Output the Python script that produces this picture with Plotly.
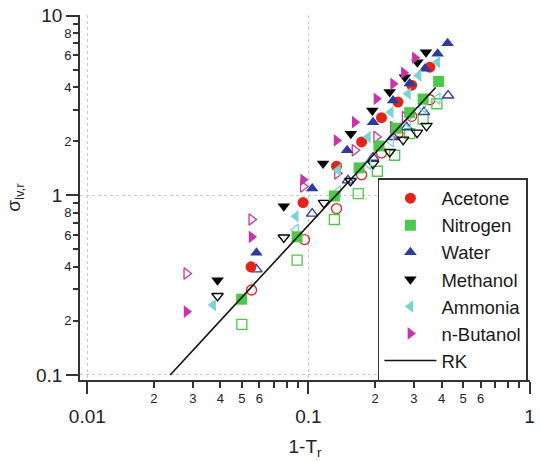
import plotly.graph_objects as go

# ---------------- data ----------------
acetone_x = [0.055, 0.0946, 0.134, 0.174, 0.214, 0.254, 0.293, 0.354]
acetone_y = [0.40, 0.91, 1.45, 1.98, 2.70, 3.30, 4.10, 5.16]
acetone_open_x = [0.0553, 0.096, 0.134, 0.174, 0.214, 0.254, 0.293, 0.354]
acetone_open_y = [0.297, 0.567, 0.843, 1.30, 1.72, 2.20, 2.75, 3.40]

nitrogen_x = [0.0499, 0.0889, 0.131, 0.1695, 0.2085, 0.2495, 0.287, 0.33, 0.388]
nitrogen_y = [0.264, 0.587, 0.99, 1.42, 1.88, 2.36, 2.88, 3.43, 4.30]
nitrogen_open_x = [0.050, 0.0889, 0.131, 0.168, 0.205, 0.2455, 0.287, 0.33, 0.381]
nitrogen_open_y = [0.191, 0.435, 0.733, 1.02, 1.36, 1.67, 2.20, 2.65, 3.23]

water_x = [0.0582, 0.104, 0.1496, 0.196, 0.2415, 0.287, 0.336, 0.384, 0.426]
water_y = [0.478, 1.09, 1.78, 2.55, 3.37, 4.19, 5.06, 6.13, 7.02]
water_open_x = [0.0582, 0.104, 0.151, 0.196, 0.2415, 0.278, 0.333, 0.428]
water_open_y = [0.387, 0.791, 1.21, 1.62, 2.11, 2.39, 2.90, 3.59]

methanol_x = [0.0388, 0.0774, 0.1165, 0.1555, 0.1945, 0.233, 0.273, 0.311, 0.34]
methanol_y = [0.337, 0.869, 1.50, 2.20, 2.96, 3.75, 4.54, 5.50, 6.25]
methanol_open_x = [0.0388, 0.0774, 0.1175, 0.155, 0.196, 0.233, 0.268, 0.31, 0.342]
methanol_open_y = [0.275, 0.582, 0.906, 1.20, 1.50, 1.74, 2.04, 2.23, 2.43]

ammonia_x = [0.0371, 0.0877, 0.136, 0.186, 0.2356, 0.282, 0.315, 0.383]
ammonia_y = [0.245, 0.764, 1.38, 2.11, 2.90, 3.67, 4.64, 5.50]
ammonia_open_x = [0.0877, 0.136, 0.186, 0.236, 0.282, 0.33, 0.383]
ammonia_open_y = [0.64, 1.05, 1.50, 2.00, 2.55, 3.10, 3.45]

butanol_x = [0.0281, 0.0553, 0.0946, 0.134, 0.162, 0.203, 0.2415, 0.270, 0.303]
butanol_y = [0.225, 0.587, 1.22, 2.02, 2.55, 3.44, 4.17, 4.80, 5.82]
butanol_open_x = [0.0281, 0.0553, 0.0946, 0.135, 0.162, 0.203, 0.2415, 0.273]
butanol_open_y = [0.367, 0.733, 1.12, 1.32, 1.78, 2.11, 2.39, 2.72]

rk_x = [0.0237, 0.05, 0.1, 0.2, 0.3, 0.376]
rk_y = [0.10, 0.27, 0.68, 1.72, 2.95, 3.98]

x_major = [0.01, 0.1, 1]
x_major_text = ["0.01", "0.1", "1"]
y_major = [0.1, 1, 10]
y_major_text = ["0.1", "1", "10"]
# all minor tick positions
x_minor = [m * d for d in (0.01, 0.1) for m in range(2, 10)]
y_minor = [m * d for d in (0.1, 1) for m in range(2, 10)]
# labelled minor ticks
x_minor_lab = [m * d for d in (0.01, 0.1) for m in (2, 3, 4, 5, 6)]
x_minor_lab_text = [str(m) for d in (0.01, 0.1) for m in (2, 3, 4, 5, 6)]
y_minor_lab = [m * d for d in (0.1, 1) for m in (2, 4, 6, 8)]
y_minor_lab_text = [str(m) for d in (0.1, 1) for m in (2, 4, 6, 8)]

series = [
    ("Acetone", "circle", "#e3241b", acetone_x, acetone_y, acetone_open_x, acetone_open_y),
    ("Nitrogen", "square", "#4cc84a", nitrogen_x, nitrogen_y, nitrogen_open_x, nitrogen_open_y),
    ("Water", "triangle-up", "#2b3c9e", water_x, water_y, water_open_x, water_open_y),
    ("Methanol", "triangle-down", "#000000", methanol_x, methanol_y, methanol_open_x, methanol_open_y),
    ("Ammonia", "triangle-left", "#7dd4ce", ammonia_x, ammonia_y, ammonia_open_x, ammonia_open_y),
    ("n-Butanol", "triangle-right", "#c935a8", butanol_x, butanol_y, butanol_open_x, butanol_open_y),
]

fig = go.Figure()

# open markers (not in legend)
for name, sym, col, fx, fy, ox, oy in series:
    fig.add_trace(go.Scatter(
        x=ox, y=oy, mode="markers", showlegend=False, hoverinfo="skip",
        marker=dict(symbol=sym + "-open", size=10, color=col, line=dict(width=1.3, color=col)),
    ))

# filled markers
for name, sym, col, fx, fy, ox, oy in series:
    fig.add_trace(go.Scatter(
        x=fx, y=fy, mode="markers", name=name,
        marker=dict(symbol=sym, size=11, color=col, line=dict(width=0)),
    ))

fig.add_trace(go.Scatter(x=rk_x, y=rk_y, mode="lines", name="RK",
                         line=dict(color="#111111", width=1.6)))

# helper axes for the small minor tick labels
fig.add_trace(go.Scatter(x=[0.05], y=[0.5], xaxis="x2", yaxis="y2", mode="markers",
                         marker=dict(opacity=0), showlegend=False, hoverinfo="skip"))

font_family = "Liberation Sans, Arial, sans-serif"
axcol = "#333333"

fig.update_layout(
    width=540, height=461,
    margin=dict(l=80, r=10, t=15, b=81, autoexpand=False),
    paper_bgcolor="white", plot_bgcolor="white",
    font=dict(family=font_family, color="#222222"),
    xaxis=dict(
        type="log", range=[-2.033, 0.002],
        tickmode="array", tickvals=x_major, ticktext=x_major_text,
        ticks="outside", ticklen=12, tickwidth=1.5, tickcolor=axcol,
        tickfont=dict(size=19), ticklabelstandoff=6,
        minor=dict(tickmode="array", tickvals=x_minor, ticks="outside", ticklen=6,
                   tickwidth=1.5, tickcolor=axcol, showgrid=False),
        showline=True, linecolor=axcol, linewidth=1.5,
        showgrid=True, gridcolor="#c9c9c9", griddash="dot", gridwidth=1,
        zeroline=False,
        title=dict(text="1-T<sub>r</sub>", font=dict(size=19), standoff=14),
    ),
    yaxis=dict(
        type="log", range=[-1.028, 1.003],
        tickmode="array", tickvals=y_major, ticktext=y_major_text,
        ticks="outside", ticklen=12, tickwidth=1.5, tickcolor=axcol,
        tickfont=dict(size=19),
        minor=dict(tickmode="array", tickvals=y_minor, ticks="outside", ticklen=5,
                   tickwidth=1.5, tickcolor=axcol, showgrid=False),
        showline=True, linecolor=axcol, linewidth=1.5,
        showgrid=True, gridcolor="#c9c9c9", griddash="dot", gridwidth=1,
        zeroline=False,
        title=dict(text="σ<sub>lv,r</sub>", font=dict(size=19), standoff=10),
    ),
    xaxis2=dict(
        type="log", range=[-2.033, 0.002], overlaying="x", anchor="y", side="bottom",
        tickmode="array", tickvals=x_minor_lab, ticktext=x_minor_lab_text,
        ticks="outside", ticklen=6, tickwidth=1.5, tickcolor=axcol,
        tickfont=dict(size=13), showline=False, showgrid=False, zeroline=False,
    ),
    yaxis2=dict(
        type="log", range=[-1.028, 1.003], overlaying="y", anchor="x", side="left",
        tickmode="array", tickvals=y_minor_lab, ticktext=y_minor_lab_text,
        ticks="outside", ticklen=5, tickwidth=1.5, tickcolor=axcol,
        tickfont=dict(size=13), showline=False, showgrid=False, zeroline=False,
    ),
    legend=dict(
        x=0.662, y=0.553, xanchor="left", yanchor="top",
        bgcolor="white", bordercolor="#333333", borderwidth=1.5,
        font=dict(size=18.5, family=font_family, color="#1a1a1a"),
        itemwidth=52, tracegroupgap=0,
    ),
    showlegend=True,
)

fig.write_html("out.html")
